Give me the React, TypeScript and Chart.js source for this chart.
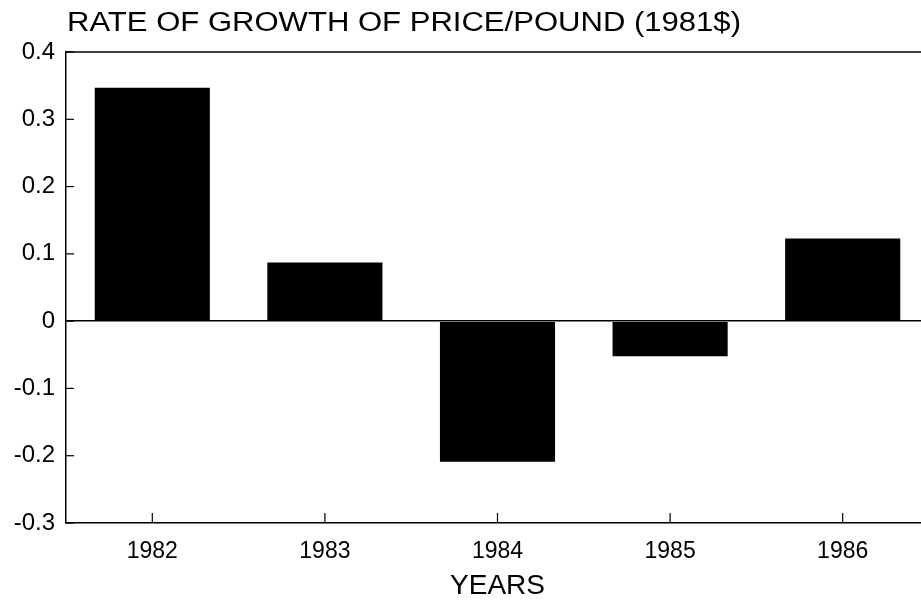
import React, { useEffect, useRef } from "react";
import { Chart, registerables } from "chart.js";

Chart.register(...registerables);

const years = ["1982", "1983", "1984", "1985", "1986"];
const growth = [0.347, 0.087, -0.209, -0.052, 0.123];
const yTicks = [0.4, 0.3, 0.2, 0.1, 0, -0.1, -0.2, -0.3];
const titleText = "RATE OF GROWTH OF PRICE/POUND (1981$)";
const xTitle = "YEARS";

const FONT = "'Liberation Sans', Arial, Helvetica, sans-serif";

const frame = {
  id: "frame",
  afterDraw(chart: any) {
    const { ctx, chartArea } = chart;
    const xs = chart.scales.x;
    const ys = chart.scales.y;
    ctx.save();
    ctx.strokeStyle = "#000";
    ctx.lineWidth = 1.5;
    ctx.beginPath();
    ctx.moveTo(chartArea.left, chartArea.top);
    ctx.lineTo(chartArea.right, chartArea.top);
    ctx.stroke();
    ctx.lineWidth = 1.2;
    for (const v of yTicks) {
      const y = ys.getPixelForValue(v);
      ctx.beginPath();
      ctx.moveTo(chartArea.left, y);
      ctx.lineTo(chartArea.left + 8, y);
      ctx.stroke();
    }
    years.forEach((_, i) => {
      const x = xs.getPixelForValue(i);
      ctx.beginPath();
      ctx.moveTo(x, chartArea.bottom);
      ctx.lineTo(x, chartArea.bottom - 10);
      ctx.stroke();
    });
    ctx.restore();
  },
};

export default function App() {
  const ref = useRef<HTMLCanvasElement>(null);
  useEffect(() => {
    const chart = new Chart(ref.current!, {
      type: "bar",
      data: {
        labels: years,
        datasets: [
          {
            data: growth,
            backgroundColor: "#000",
            borderWidth: 0,
            barPercentage: 0.667,
            categoryPercentage: 1,
          },
        ],
      },
      options: {
        animation: false,
        responsive: false,
        devicePixelRatio: 1,
        layout: { padding: { top: 52, left: 0, right: 0, bottom: 0 } },
        plugins: { legend: { display: false }, tooltip: { enabled: false }, title: { display: false } },
        scales: {
          x: {
            grid: { display: false, drawTicks: false },
            border: { display: true, color: "#000", width: 1.5 },
            ticks: { color: "#000", font: { family: FONT, size: 23 }, padding: 15, maxRotation: 0 },
            title: { display: true, text: xTitle, color: "#000", font: { family: FONT, size: 28 }, padding: { top: 4, bottom: -3 } },
            afterFit: (s: any) => { s.height = 77; },
          },
          y: {
            min: -0.3,
            max: 0.4,
            afterBuildTicks: (s: any) => { s.ticks = yTicks.map((v) => ({ value: v })); },
            grid: {
              drawTicks: false,
              color: (c: any) => (c.tick && c.tick.value === 0 ? "#000" : "rgba(0,0,0,0)"),
              lineWidth: 1.5,
            },
            border: { display: true, color: "#000", width: 1.5 },
            ticks: {
              color: "#000",
              font: { family: FONT, size: 24 },
              padding: 11,
              callback: (v: any) => (Number(v) === 0 ? "0" : Number(v).toFixed(1)),
            },
            afterFit: (s: any) => { s.width = 66; },
          },
        },
      },
      plugins: [frame],
    });
    return () => chart.destroy();
  }, []);
  return (
    <div style={{ position: "fixed", left: 0, top: 0, width: 921, height: 600, overflow: "hidden", background: "#fff" }}>
      <div
        style={{
          position: "absolute",
          left: 67,
          top: 7,
          fontFamily: FONT,
          fontSize: 27,
          color: "#000",
          whiteSpace: "nowrap",
          lineHeight: "30px",
          transform: "scaleX(1.15)",
          transformOrigin: "0 0",
        }}
      >
        {titleText}
      </div>
      <canvas ref={ref} width={929} height={600} style={{ display: "block", width: 929, height: 600 }} />
    </div>
  );
}
